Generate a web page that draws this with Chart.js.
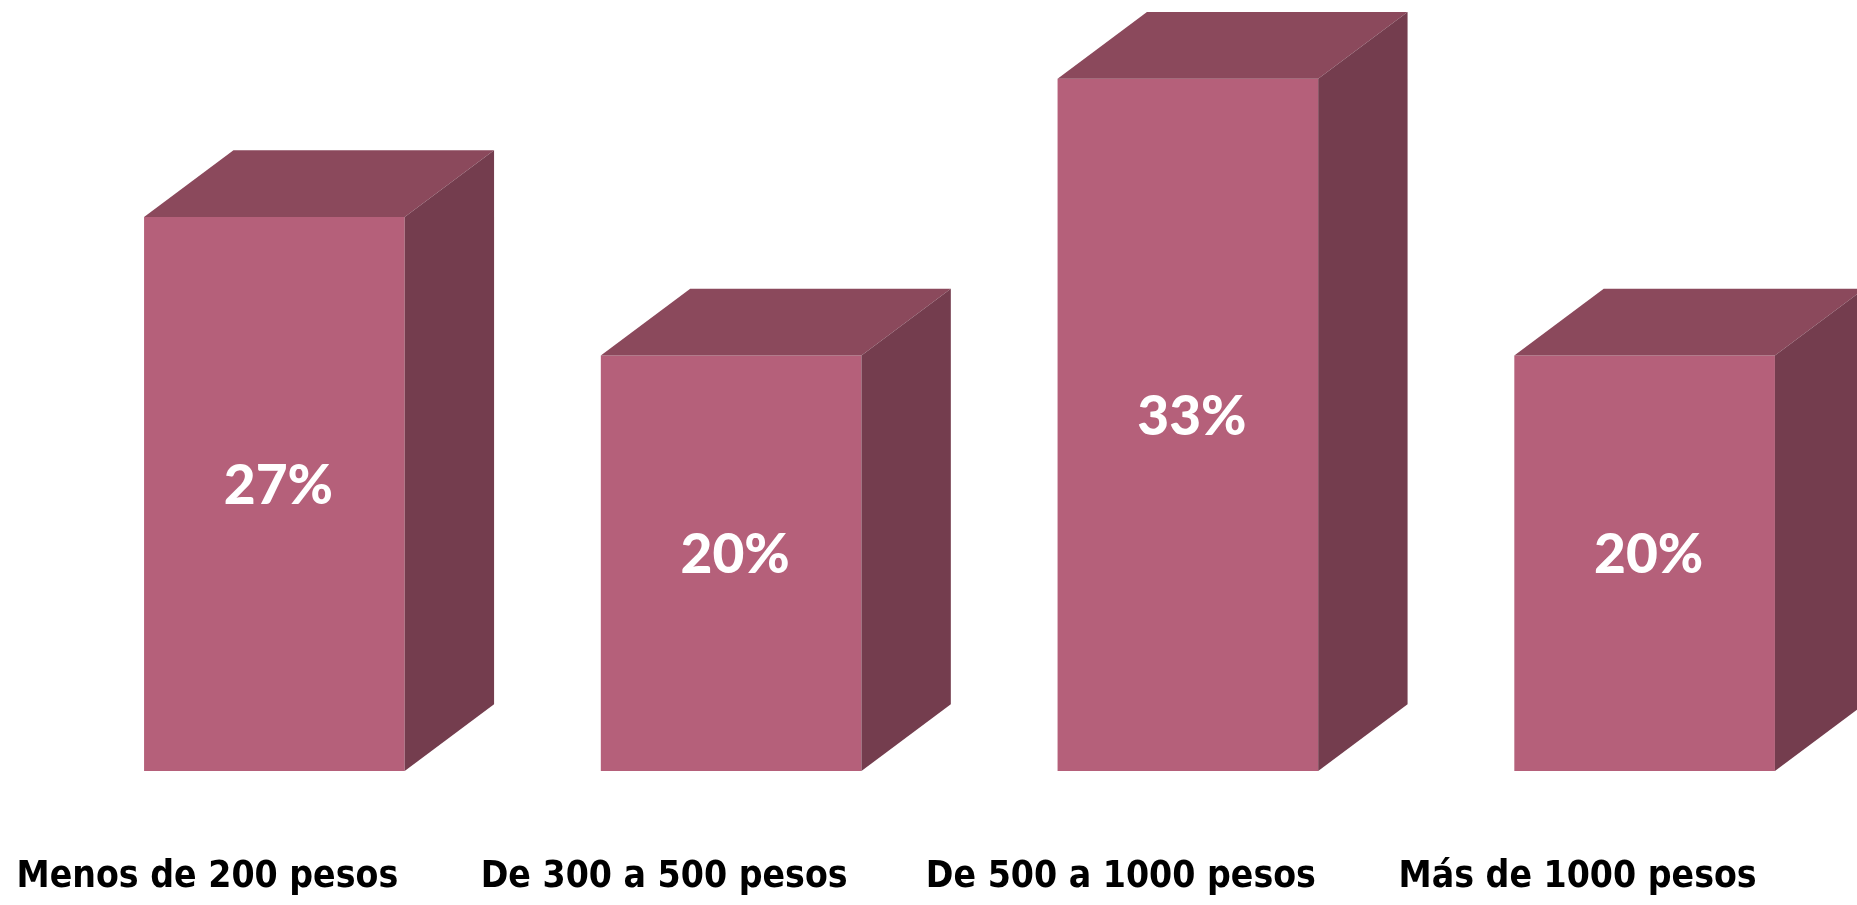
<!DOCTYPE html>
<html lang="es">

<head>
  <meta charset="UTF-8" />
  <title>Gasto</title>
  <script src="https://cdn.jsdelivr.net/npm/chart.js"></script>
  <style>
    * {
      margin: 0;
      padding: 0;
      box-sizing: border-box;
    }

    html, body {
      background: #fff;
      overflow: hidden;
    }

    .clip {
      width: 1857px;
      height: 905px;
      overflow: hidden;
    }

    canvas {
      display: block;
    }
  </style>
</head>

<body>
  <div class="clip">
    <canvas id="chart" width="1880" height="905"></canvas>
  </div>

  <script>
    const categories = ['Menos de 200 pesos', 'De 300 a 500 pesos', 'De 500 a 1000 pesos', 'Más de 1000 pesos'];
    const values = [26.67, 20, 33.33, 20];

    const frontColor = '#B5607A';
    const topColor = '#8B495C';
    const sideColor = '#743D4E';

    // draws the top and side faces + the white % labels
    const boxes3d = {
      id: 'boxes3d',
      afterDatasetsDraw(chart) {
        const ctx = chart.ctx;
        const meta = chart.getDatasetMeta(0);
        ctx.save();
        meta.data.forEach((bar, i) => {
          const { x, y, base, width } = bar.getProps(['x', 'y', 'base', 'width'], true);
          const l = x - width / 2, r = x + width / 2;
          const dx = width * 0.343, dy = width * 0.256;

          ctx.fillStyle = topColor;
          ctx.beginPath();
          ctx.moveTo(l, y);
          ctx.lineTo(l + dx, y - dy);
          ctx.lineTo(r + dx, y - dy);
          ctx.lineTo(r, y);
          ctx.closePath();
          ctx.fill();

          ctx.fillStyle = sideColor;
          ctx.beginPath();
          ctx.moveTo(r, y);
          ctx.lineTo(r + dx, y - dy);
          ctx.lineTo(r + dx, base - dy);
          ctx.lineTo(r, base);
          ctx.closePath();
          ctx.fill();

          ctx.fillStyle = '#fff';
          ctx.font = '900 55px Lato, "Open Sans", sans-serif';
          ctx.textAlign = 'center';
          ctx.textBaseline = 'middle';
          ctx.fillText(Math.round(values[i]) + '%', x + 4, (y + base) / 2 - 8);
        });
        ctx.restore();
      }
    };

    new Chart(document.getElementById('chart'), {
      type: 'bar',
      data: {
        labels: categories,
        datasets: [{
          data: values,
          backgroundColor: frontColor,
          borderWidth: 0,
          categoryPercentage: 1,
          barPercentage: 0.5706
        }]
      },
      options: {
        responsive: false,
        animation: false,
        devicePixelRatio: 1,
        layout: {
          padding: { left: 46, right: 7, top: 44, bottom: 0 }
        },
        plugins: {
          legend: { display: false },
          tooltip: { enabled: false }
        },
        scales: {
          y: {
            display: false,
            min: 0,
            max: 35
          },
          x: {
            grid: { display: false, drawTicks: false },
            border: { display: false },
            afterFit(scale) {
              scale.height = 134;
              scale.paddingLeft = 0;
              scale.paddingRight = 0;
            },
            ticks: {
              color: '#000',
              padding: 84,
              labelOffset: -67,
              maxRotation: 0,
              autoSkip: false,
              font: { family: '"DejaVu Sans Condensed", "Liberation Sans Narrow", "DejaVu Sans", sans-serif', size: 37, weight: 'bold' }
            }
          }
        }
      },
      plugins: [boxes3d]
    });
  </script>
</body>

</html>
